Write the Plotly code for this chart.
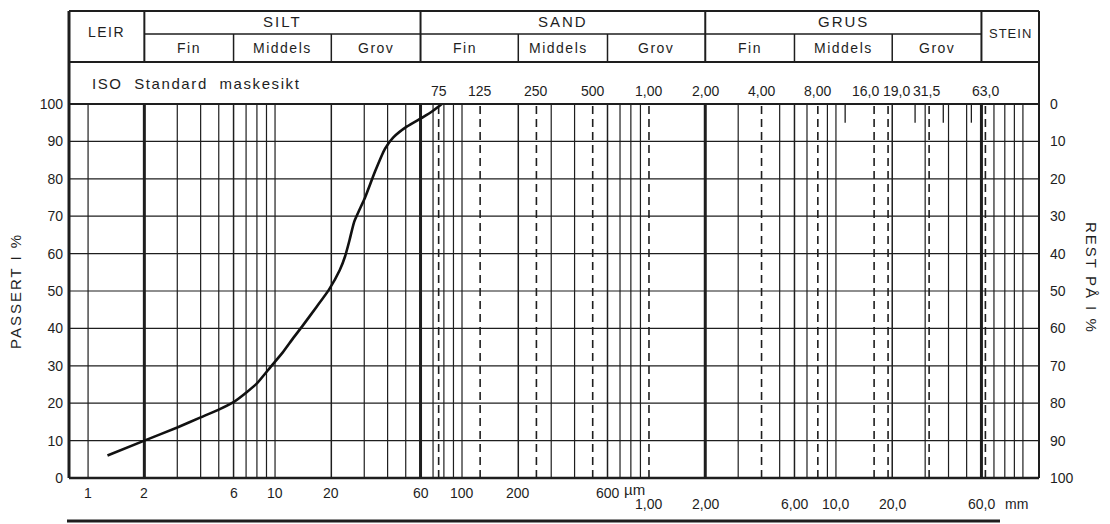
import numpy as np
import plotly.graph_objects as go

# ---------------- data ----------------
size_um = [1.27, 2.0, 3.0, 4.0, 5.0, 6.0, 7.0, 8.0, 9.5, 11.0, 12.5, 14.0, 16.7, 19.4,
           22.2, 23.7, 25.0, 26.5, 30.3, 34.3, 38.7, 42.8, 50.8, 61.9, 70.0, 78.0]
passing_pct = [6.0, 10.0, 13.5, 16.2, 18.3, 20.3, 22.8, 25.3, 29.8, 33.6, 37.4, 40.6, 45.8, 50.3,
               55.6, 59.3, 63.5, 68.5, 75.0, 82.0, 88.0, 91.0, 94.0, 96.5, 98.2, 100.0]

grid_thin_um = [1, 3, 4, 5, 7, 8, 9, 10, 30, 40, 50, 70, 80, 90, 100, 300, 400, 700, 800, 900,
                3000, 5000, 7000, 9000, 10000, 30000, 40000, 50000, 70000, 80000, 90000, 100000]
grid_sub_um = [6, 20, 200, 600, 6000, 20000]
grid_class_um = [2, 60, 2000, 60000]
iso_sieves_um = [75, 125, 250, 500, 1000, 4000, 8000, 16000, 19000, 31500, 63000]
iso_labels = ["75", "125", "250", "500", "1,00", "2,00", "4,00", "8,00", "16,0", "19,0", "31,5", "63,0"]
iso_label_um = [75, 125, 250, 500, 1000, 2000, 4000, 8000, 16000, 19000, 31500, 63000]
iso_label_shift = [0, 0, 0, 0, 0, 0, 0, 0, -9, 8, -3, 0]
short_ticks_um = [11200, 26500, 37500, 53000]

classes = ["SILT", "SAND", "GRUS"]
class_bounds_um = [2, 60, 2000, 60000]
sub_names = ["Fin", "Middels", "Grov"]

bottom_um_vals = [1, 2, 6, 10, 20, 60, 100, 200, 600]
bottom_um_text = ["1", "2", "6", "10", "20", "60", "100", "200", "600"]
bottom_mm_vals = [1000, 2000, 6000, 10000, 20000, 60000]
bottom_mm_text = ["1,00", "2,00", "6,00", "10,0", "20,0", "60,0"]

pct_ticks = list(range(0, 101, 10))

# ---------------- layout geometry ----------------
W, H = 1110, 524
L, R, T, B = 69, 71, 104, 46
PW, PH = W - L - R, H - T - B
XR = [-0.102, 5.086]  # log10(µm)

def py(pix):  # pixel y -> paper y
    return (H - B - pix) / PH

def px(pix):  # pixel x -> paper x
    return (pix - L) / PW

INK = "#1e1e1e"
FONT = "Liberation Sans, Arial, sans-serif"
lg = np.log10

def spaced(s, sp):
    return f'<span style="letter-spacing:{sp}px">{s}</span>'

fig = go.Figure()
fig.add_trace(go.Scatter(x=size_um, y=passing_pct, mode="lines",
                         line=dict(color="#111", width=2.6, shape="spline", smoothing=0.5),
                         showlegend=False, hoverinfo="skip"))
fig.add_trace(go.Scatter(x=[XR[0]], y=[0], xaxis="x2", yaxis="y2", mode="markers",
                         marker=dict(opacity=0), showlegend=False, hoverinfo="skip"))

shapes = []
def vline(v, width, dash="solid", y0=0, y1=100, yref="y"):
    shapes.append(dict(type="line", xref="x2", yref=yref, x0=lg(v), x1=lg(v), y0=y0, y1=y1,
                       line=dict(color=INK, width=width, dash=dash), layer="below"))

for v in grid_thin_um:
    vline(v, 1.2)
for v in grid_sub_um:
    vline(v, 1.5)
for v in grid_class_um:
    vline(v, 3)
for v in iso_sieves_um:
    vline(v, 1.6, dash="8px,5px")
for v in short_ticks_um:
    vline(v, 1.3, y0=95, y1=100)
for p in pct_ticks[1:-1]:
    shapes.append(dict(type="line", xref="paper", yref="y", x0=0, x1=1, y0=p, y1=p,
                       line=dict(color=INK, width=1.2), layer="below"))

# plot frame and header table
shapes += [
    dict(type="line", xref="paper", yref="paper", x0=0, x1=0, y0=0, y1=py(11), line=dict(color=INK, width=3)),
    dict(type="line", xref="paper", yref="paper", x0=1, x1=1, y0=0, y1=py(11), line=dict(color=INK, width=2)),
    dict(type="line", xref="paper", yref="paper", x0=0, x1=1, y0=0, y1=0, line=dict(color=INK, width=2.5)),
    dict(type="line", xref="paper", yref="paper", x0=0, x1=1, y0=1, y1=1, line=dict(color=INK, width=2)),
    dict(type="line", xref="paper", yref="paper", x0=0, x1=1, y0=py(11), y1=py(11), line=dict(color=INK, width=2)),
    dict(type="line", xref="paper", yref="paper", x0=0, x1=1, y0=py(62), y1=py(62), line=dict(color=INK, width=2)),
    dict(type="line", xref="x2", yref="paper", x0=lg(class_bounds_um[0]), x1=lg(class_bounds_um[-1]),
         y0=py(34), y1=py(34), line=dict(color=INK, width=1.5)),
    dict(type="line", xref="paper", yref="paper", x0=px(67), x1=px(1000), y0=py(521), y1=py(521),
         line=dict(color=INK, width=3)),
]
for v in class_bounds_um:
    vline(v, 2, y0=py(62), y1=py(11), yref="paper")
for v in grid_sub_um:
    vline(v, 1.5, y0=py(62), y1=py(34), yref="paper")

ann = []
def text(x, y, s, size=14, xref="x2", xanchor="center", yanchor="middle", xshift=0, angle=0):
    ann.append(dict(x=x, y=y, xref=xref, yref="paper", text=s, showarrow=False,
                    xanchor=xanchor, yanchor=yanchor, xshift=xshift, textangle=angle,
                    font=dict(family=FONT, size=size, color=INK)))

# header labels
text(lg(np.sqrt(10 ** XR[0] * class_bounds_um[0])), py(32), spaced("LEIR", 1.5), 14)
text(lg(np.sqrt(10 ** XR[1] * class_bounds_um[-1])), py(34), spaced("STEIN", 1), 13)
for i, name in enumerate(classes):
    a, b = class_bounds_um[i], class_bounds_um[i + 1]
    text(lg(np.sqrt(a * b)), py(21), spaced(name, 2), 15)
    edges = [a, a * 3, a * 10, b]
    for j, sn in enumerate(sub_names):
        text(lg(np.sqrt(edges[j] * edges[j + 1])), py(48), spaced(sn, 1.5), 14)
text(px(90), py(83), spaced("ISO&nbsp;&nbsp;Standard&nbsp;&nbsp;maskesikt", 1.6), 15,
     xref="paper", xanchor="left")
for v, s, sh in zip(iso_label_um, iso_labels, iso_label_shift):
    text(lg(v), py(91), s, 14, xshift=sh)

# bottom labels
for v, s in zip(bottom_um_vals, bottom_um_text):
    text(lg(v), py(493), s, 14)
text(lg(600), py(490), "µm", 15, xanchor="left", xshift=14)
for v, s in zip(bottom_mm_vals, bottom_mm_text):
    text(lg(v), py(504), s, 14)
text(lg(60000), py(504), "mm", 14, xanchor="left", xshift=22)

# axis titles
text(px(15), py(291), spaced("PASSERT I %", 2), 15, xref="paper", angle=-90)
text(px(1092), py(278), spaced("REST PÅ I %", 2), 15, xref="paper", angle=90)

fig.update_layout(
    width=W, height=H, margin=dict(l=L, r=R, t=T, b=B),
    paper_bgcolor="white", plot_bgcolor="white", showlegend=False,
    font=dict(family=FONT, color=INK, size=14),
    xaxis=dict(type="log", range=XR, showgrid=False, zeroline=False, showticklabels=False,
               ticks="", showline=False),
    xaxis2=dict(overlaying="x", range=XR, visible=False, showgrid=False, zeroline=False),
    yaxis=dict(range=[0, 100], tickvals=pct_ticks, ticks="", showgrid=False, zeroline=False,
               showline=False, ticklabelstandoff=5, tickfont=dict(size=14)),
    yaxis2=dict(overlaying="y", side="right", range=[100, 0], tickvals=pct_ticks, ticks="",
                showgrid=False, zeroline=False, showline=False, ticklabelstandoff=10,
                tickfont=dict(size=14)),
    shapes=shapes, annotations=ann,
)

fig.write_html("out.html", config={"displayModeBar": False},
               post_script="document.body.style.margin='0';document.body.style.padding='0';")
